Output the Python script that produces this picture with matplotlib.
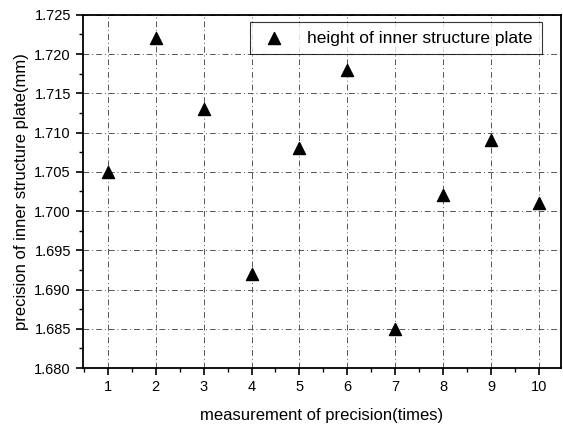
import matplotlib
matplotlib.use("Agg")
import matplotlib.pyplot as plt
from matplotlib.ticker import MultipleLocator

plt.rcParams['font.family'] = ['Liberation Sans', 'DejaVu Sans']

times = [1, 2, 3, 4, 5, 6, 7, 8, 9, 10]
height = [1.705, 1.722, 1.713, 1.692, 1.708, 1.718, 1.685, 1.702, 1.709, 1.701]
series_label = "height of inner structure plate"
x_label = "measurement of precision(times)"
y_label = "precision of inner structure plate(mm)"

fig = plt.figure(figsize=(5.63, 4.25), dpi=100)
ax = fig.add_axes([0.147, 0.134, 0.849, 0.831])

ax.scatter(times, height, marker='^', s=75, color='black', zorder=3, label=series_label)

ax.set_xlim(0.48, 10.45)
ax.set_ylim(1.680, 1.725)
ax.xaxis.set_major_locator(MultipleLocator(1))
ax.xaxis.set_minor_locator(MultipleLocator(0.5))
ax.yaxis.set_major_locator(MultipleLocator(0.005))
ax.yaxis.set_minor_locator(MultipleLocator(0.0025))
ax.yaxis.set_major_formatter(matplotlib.ticker.FormatStrFormatter('%.3f'))

ax.grid(True, which='major', linestyle=(0, (6, 3, 1, 3)), color='#555555', linewidth=0.7)
ax.tick_params(which='major', direction='out', length=5, width=1.2, labelsize=10.5)
ax.tick_params(which='minor', direction='out', length=3, width=1)
for sp in ax.spines.values():
    sp.set_linewidth(1.3)

ax.set_xlabel(x_label, fontsize=12, labelpad=10)
ax.set_ylabel(y_label, fontsize=12, labelpad=4)

leg = ax.legend(loc='upper right', bbox_to_anchor=(0.960, 0.980), borderaxespad=0,
                fontsize=12.5, frameon=True, fancybox=False, edgecolor='black',
                handletextpad=1.0, borderpad=0.5, scatterpoints=1, handlelength=1.8)
leg.get_frame().set_linewidth(0.8)

fig.savefig("out.png", dpi=100)
